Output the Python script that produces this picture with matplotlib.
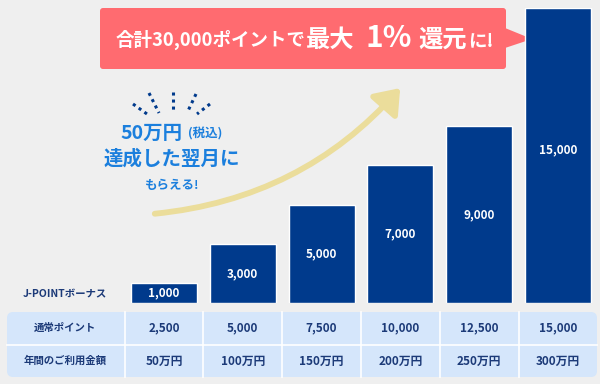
import matplotlib
matplotlib.use("Agg")
import matplotlib.pyplot as plt
from matplotlib.patches import FancyBboxPatch, Polygon, FancyArrowPatch

plt.rcParams['font.family'] = ['Noto Sans CJK JP', 'DejaVu Sans']

# data
bonus = [1000, 3000, 5000, 7000, 9000, 15000]
normal_points = ["2,500", "5,000", "7,500", "10,000", "12,500", "15,000"]
spend = ["50万円", "100万円", "150万円", "200万円", "250万円", "300万円"]
row_labels = ["通常ポイント", "年間のご利用金額"]

bg = "#EFEFEF"
navy = "#003A8C"
text_navy = "#1C3A78"
blue_txt = "#1B7FDD"

W, H = 600, 384
fig = plt.figure(figsize=(6, 3.84), dpi=100, facecolor=bg)

# overlay axes in pixel coordinates
ov = fig.add_axes([0, 0, 1, 1])
ov.set_xlim(0, W)
ov.set_ylim(H, 0)
ov.axis("off")

# bar axes
x0, x1 = 124.6, 597.4
ybot, ytop = 303, 8
ax = fig.add_axes([x0 / W, (H - ybot) / H, (x1 - x0) / W, (ybot - ytop) / H])
ax.set_facecolor("none")
ax.set_xlim(-0.5, 5.5)
ax.set_ylim(0, 15000)
ax.axis("off")

xs = range(len(bonus))
ax.bar(xs, bonus, width=0.84, color=navy, edgecolor="white", linewidth=1)
for i, v in enumerate(bonus):
    ax.text(i, v / 2 + (300 if v == max(bonus) else 0), f"{v:,}", ha="center",
            va="center", color="white", fontsize=8.5, fontweight="bold")

ov.text(65, 294, "J-POINTボーナス", ha="center", va="center", color=text_navy,
        fontsize=7.5, fontweight="bold")

# table
tbl = FancyBboxPatch((7, 312), 590, 65, boxstyle="round,pad=0,rounding_size=6",
                     facecolor="#D5E6FB", edgecolor="none")
ov.add_patch(tbl)
ov.plot([7, 597], [344.5, 344.5], color="white", lw=1.2)
col_w = (x1 - x0) / len(bonus)
for k in range(len(bonus)):
    ov.plot([x0 + k * col_w] * 2, [312, 377], color="white", lw=1.2)
rows = [normal_points, spend]
row_y = [328, 361]
for r, vals in enumerate(rows):
    ov.text(65, row_y[r], row_labels[r], ha="center", va="center",
            color=text_navy, fontsize=7.5, fontweight="bold")
    for k, t in enumerate(vals):
        ov.text(x0 + (k + 0.5) * col_w, row_y[r], t, ha="center", va="center",
                color=text_navy, fontsize=8.5, fontweight="bold")

# banner
red = "#FF6B70"
ban = FancyBboxPatch((100, 8), 406, 61, boxstyle="round,pad=0,rounding_size=3",
                     facecolor=red, edgecolor="none")
ov.add_patch(ban)
ov.add_patch(Polygon([[505, 28], [532, 39], [505, 48]], closed=True,
                     facecolor=red, edgecolor="none"))
ov.text(116, 46, "合計30,000ポイントで", ha="left", va="baseline", color="white",
        fontsize=13.3, fontweight="bold")
ov.text(306, 47, "最大", ha="left", va="baseline", color="white",
        fontsize=17.5, fontweight="bold")
ov.text(366, 47, "1%", ha="left", va="baseline", color="white",
        fontsize=21.5, fontweight="bold")
ov.text(418, 47, "還元", ha="left", va="baseline", color="white",
        fontsize=17.5, fontweight="bold")
ov.text(468, 46, "に!", ha="left", va="baseline", color="white",
        fontsize=13.3, fontweight="bold")

# arrow
arr = FancyArrowPatch((152, 214), (402, 86), connectionstyle="arc3,rad=0.2",
                      arrowstyle="-|>,head_length=1.0,head_width=0.75",
                      mutation_scale=14, color="#EBDD9B", lw=4.2)
ov.add_patch(arr)

# rays
rays = [((133, 104), (147, 114)), ((149, 93), (159, 113)), ((173, 92), (173, 113)),
        ((196, 94), (187, 113)), ((210, 104), (197, 114))]
for (a, b) in rays:
    ov.plot([a[0], b[0]], [a[1], b[1]], color=navy, lw=2.2, linestyle=(0, (1, 1.3)))

# left texts
ov.text(152, 133, "50万円", ha="center", va="center", color=blue_txt,
        fontsize=14, fontweight="bold")
ov.text(205, 134, "(税込)", ha="center", va="center", color=blue_txt,
        fontsize=9, fontweight="bold")
ov.text(172, 159, "達成した翌月に", ha="center", va="center", color=blue_txt,
        fontsize=14, fontweight="bold")
ov.text(172, 186, "もらえる!", ha="center", va="center", color=blue_txt,
        fontsize=9, fontweight="bold")

fig.savefig("out.png", dpi=100, facecolor=bg)
